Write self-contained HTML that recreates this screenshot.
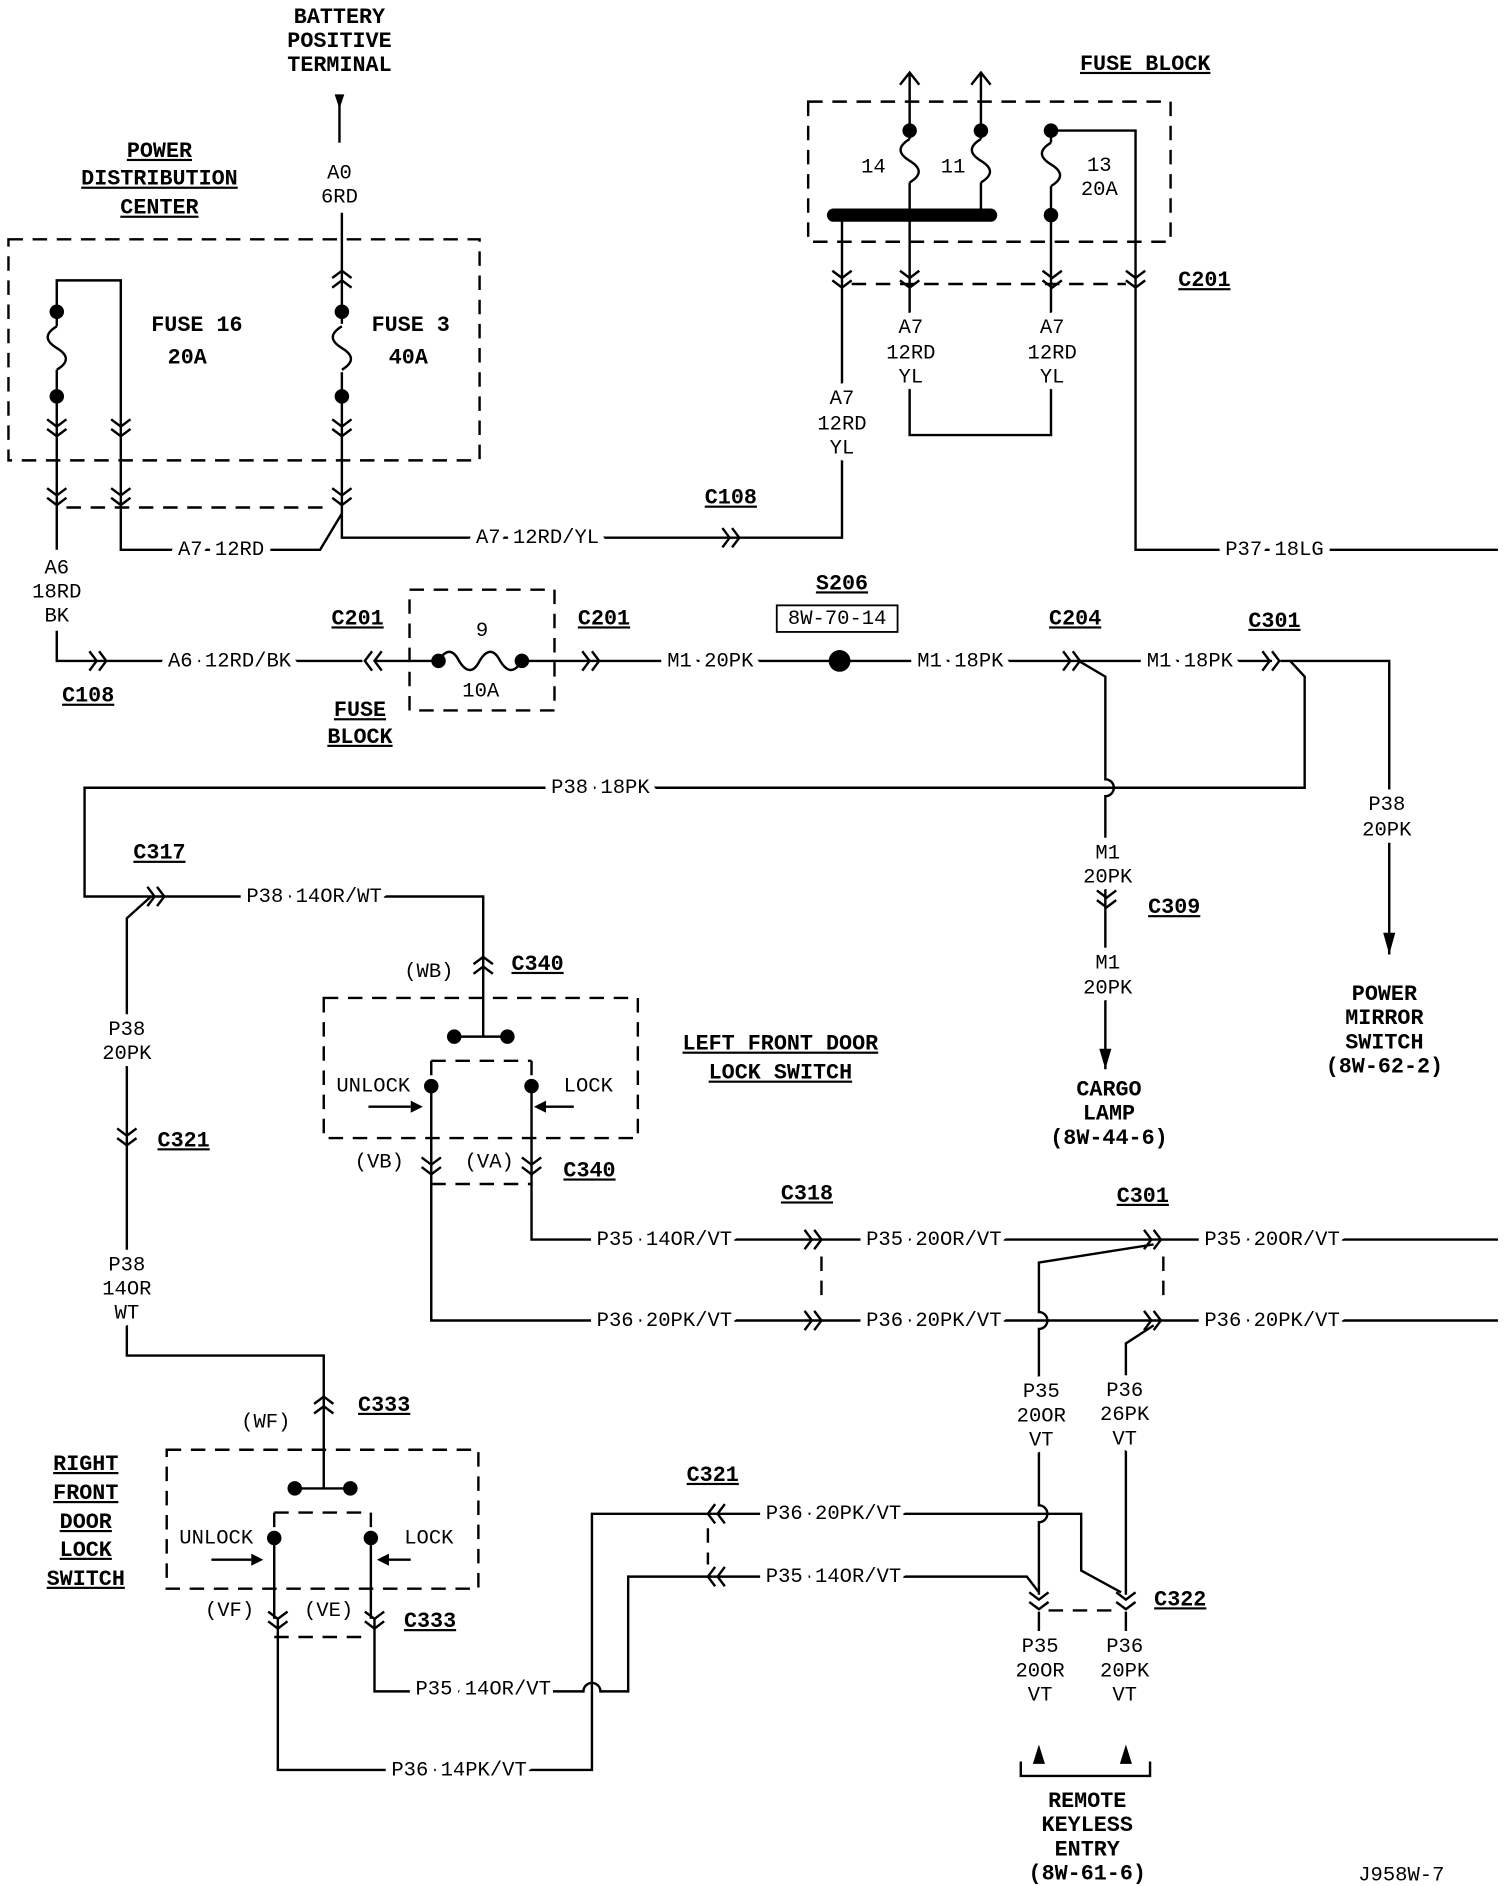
<!DOCTYPE html>
<html><head><meta charset="utf-8"><style>
html,body{margin:0;padding:0;background:#fff;}
svg{display:block;}
text{font-family:"Liberation Mono",monospace;font-size:17px;fill:#000;text-anchor:middle;dominant-baseline:middle;paint-order:stroke;stroke:#fff;stroke-width:12px;stroke-linejoin:round;}
text.b{font-weight:bold;font-size:18px;text-decoration:underline;stroke-width:0;}
text.t{font-weight:bold;font-size:18px;stroke-width:0;}
.l{stroke:#000;stroke-width:2;fill:none;}
.d{stroke:#000;stroke-width:2;fill:none;stroke-dasharray:12,8;}
</style></head><body>
<svg width="1504" height="1886" viewBox="0 0 1245 1561" xmlns="http://www.w3.org/2000/svg">
<defs>
<path id="cd" d="M-8,-8 L0,-2 L8,-8 M-8,0 L0,6 L8,0" stroke="#000" stroke-width="2" fill="none"/>
<path id="cu" d="M-8,8 L0,2 L8,8 M-8,0 L0,-6 L8,0" stroke="#000" stroke-width="2" fill="none"/>
<path id="cr" d="M-8,-8 L-2,0 L-8,8 M0,-8 L6,0 L0,8" stroke="#000" stroke-width="2" fill="none"/>
<path id="cl" d="M8,-8 L2,0 L8,8 M0,-8 L-6,0 L0,8" stroke="#000" stroke-width="2" fill="none"/>
<path id="fv" d="M0,0 c-10,6 -10,12 0,18 c10,6 10,12 0,18" stroke="#000" stroke-width="2" fill="none"/>
</defs>

<!-- battery -->
<text class="t" x="281" y="14">BATTERY</text>
<text class="t" x="281" y="34">POSITIVE</text>
<text class="t" x="281" y="54">TERMINAL</text>
<path d="M277,78 L285,78 L281,90 Z" fill="#000"/>
<path class="l" d="M281,80 V118"/>
<text x="281" y="143">A0</text><text x="281" y="163">6RD</text>
<path class="l" d="M283,176 V445 H697 V380"/>
<path class="l" d="M697,330 V240"/>

<text class="b" x="132" y="125">POWER</text>
<text class="b" x="132" y="148">DISTRIBUTION</text>
<text class="b" x="132" y="172">CENTER</text>
<rect class="d" x="7" y="198" width="390" height="183"/>
<path class="l" d="M47,258 V232 H100 V455 H265 L283,425"/>
<path class="l" d="M47,258 V270 M47,306 V455"/>
<use href="#fv" x="47" y="270"/>
<circle cx="47" cy="258" r="6"/><circle cx="47" cy="328" r="6"/>
<use href="#cd" x="47" y="355"/><use href="#cd" x="100" y="355"/>
<use href="#cd" x="47" y="412"/><use href="#cd" x="100" y="412"/>
<use href="#cu" x="283" y="230"/>
<rect x="274" y="268" width="18" height="40" fill="#fff"/>
<use href="#fv" x="283" y="270"/>
<circle cx="283" cy="258" r="6"/><circle cx="283" cy="328" r="6"/>
<use href="#cd" x="283" y="355"/><use href="#cd" x="283" y="412"/>
<path class="d" d="M55,420 H275"/>
<text class="t" x="163" y="269">FUSE 16</text><text class="t" x="155" y="296">20A</text>
<text class="t" x="340" y="269">FUSE 3</text><text class="t" x="338" y="296">40A</text>
<text x="183" y="455">A7 12RD</text>
<text x="445" y="445">A7 12RD/YL</text>
<use href="#cr" x="606" y="445"/>
<text class="b" x="605" y="412">C108</text>
<text x="697" y="330">A7</text><text x="697" y="351">12RD</text><text x="697" y="371">YL</text>

<text x="47" y="470">A6</text><text x="47" y="490">18RD</text><text x="47" y="510">BK</text>
<path class="l" d="M47,522 V547 H300"/>
<use href="#cr" x="82" y="547"/>
<text class="b" x="73" y="576">C108</text>
<text x="190" y="547">A6 12RD/BK</text>
<use href="#cl" x="308" y="547"/>
<text class="b" x="296" y="512">C201</text>
<text class="b" x="298" y="588">FUSE</text><text class="b" x="298" y="610">BLOCK</text>
<rect class="d" x="339" y="488" width="120" height="100"/>
<path class="l" d="M310,547 H363 M432,547 H1053"/>
<path class="l" d="M363,547 c6,-10 12,-10 17,0 c6,10 12,10 17,0 c6,-10 12,-10 17,0 c6,10 12,10 18,0"/>
<circle cx="363" cy="547" r="6"/><circle cx="432" cy="547" r="6"/>
<text x="399" y="522">9</text><text x="398" y="572">10A</text>
<use href="#cr" x="490" y="547"/>
<text class="b" x="500" y="512">C201</text>
<text x="588" y="547">M1 20PK</text>
<circle cx="695" cy="547" r="9"/>
<text class="t" x="697" y="483" style="text-decoration:underline">S206</text>
<rect x="643" y="501" width="100" height="22" fill="#fff" stroke="#000" stroke-width="1.5"/>
<text x="693" y="512" style="stroke-width:0">8W-70-14</text>
<text x="795" y="547">M1 18PK</text>
<use href="#cr" x="888" y="547"/>
<text class="b" x="890" y="512">C204</text>
<text x="985" y="547">M1 18PK</text>
<use href="#cr" x="1053" y="547"/>
<text class="b" x="1055" y="514">C301</text>

<!-- fuse block top -->
<text class="b" x="948" y="53">FUSE BLOCK</text>
<rect class="d" x="669" y="84" width="300" height="116"/>
<path class="l" d="M753,60 V108 M812,60 V108 M745,70 L753,60 L761,70 M804,70 L812,60 L820,70"/>
<use href="#fv" x="753" y="115"/><use href="#fv" x="812" y="115"/>
<path class="l" d="M753,108 V115 M812,108 V115 M753,151 V360 H871 M812,151 V178"/>
<path d="M690,178 H820" stroke="#000" stroke-width="11" stroke-linecap="round"/>
<circle cx="753" cy="108" r="6"/><circle cx="812" cy="108" r="6"/>
<text x="723" y="138">14</text><text x="789" y="138">11</text>
<path class="l" d="M697,178 V240"/>
<circle cx="870" cy="108" r="6"/>
<path class="l" d="M870,108 H940 V455 H1240 M870,108 V118 M870,154 V360"/>
<use href="#fv" x="870" y="118"/>
<circle cx="870" cy="178" r="6"/>
<text x="910" y="137">13</text><text x="910" y="157">20A</text>
<use href="#cd" x="697" y="232"/><use href="#cd" x="753" y="232"/><use href="#cd" x="871" y="232"/><use href="#cd" x="940" y="232"/>
<path class="d" d="M705,235 H932"/>
<text class="b" x="997" y="232">C201</text>
<text x="754" y="271">A7</text><text x="754" y="292">12RD</text><text x="754" y="312">YL</text>
<text x="871" y="271">A7</text><text x="871" y="292">12RD</text><text x="871" y="312">YL</text>
<text x="1055" y="455">P37 18LG</text>

<!-- M1 down -->
<path class="l" d="M893,547 L915,560 V645 a7,7 0 0 1 0,14 V885"/>
<path d="M910,868 L920,868 L915,885 Z" fill="#000"/>
<text x="917" y="706">M1</text><text x="917" y="726">20PK</text>
<use href="#cd" x="916" y="745"/>
<text class="b" x="972" y="751">C309</text>
<text x="917" y="797">M1</text><text x="917" y="818">20PK</text>
<text class="t" x="918" y="902">CARGO</text><text class="t" x="918" y="922">LAMP</text><text class="t" x="918" y="942">(8W-44-6)</text>

<!-- C301 right -->
<path class="l" d="M1060,547 H1150 V790"/>
<path d="M1145,772 L1155,772 L1150,790 Z" fill="#000"/>
<text x="1148" y="666">P38</text><text x="1148" y="687">20PK</text>
<text class="t" x="1146" y="823">POWER</text><text class="t" x="1146" y="843">MIRROR</text><text class="t" x="1146" y="863">SWITCH</text><text class="t" x="1146" y="883">(8W-62-2)</text>

<!-- P38 loop -->
<path class="l" d="M1068,547 L1080,560 V652 H70 V742 H400 V800"/>
<text x="497" y="652">P38 18PK</text>
<use href="#cr" x="130" y="742"/>
<text class="b" x="132" y="706">C317</text>
<text x="260" y="742">P38 14OR/WT</text>
<use href="#cu" x="400" y="798"/>
<text x="355" y="804">(WB)</text>
<text class="b" x="445" y="798">C340</text>

<!-- left front switch -->
<rect class="d" x="268" y="826" width="260" height="116"/>
<path class="l" d="M400,800 V858 M376,858 H420"/>
<circle cx="376" cy="858" r="6"/><circle cx="420" cy="858" r="6"/>
<path class="d" d="M357,878 H440 M357,980 H440"/>
<path class="d" d="M357,878 V899 M440,878 V899"/>
<circle cx="357" cy="899" r="6"/><circle cx="440" cy="899" r="6"/>
<path class="l" d="M357,899 V1093 H1240 M440,899 V1026 H1240"/>
<text x="309" y="899">UNLOCK</text><text x="487" y="899">LOCK</text>
<path class="l" d="M305,916 H340 M475,916 H452"/>
<path d="M340,911 L350,916 L340,921 Z M452,911 L442,916 L452,921 Z" fill="#000"/>
<text class="b" x="646" y="864">LEFT FRONT DOOR</text>
<text class="b" x="646" y="888">LOCK SWITCH</text>
<text x="314" y="962">(VB)</text><text x="405" y="962">(VA)</text>
<text class="b" x="488" y="969">C340</text>
<use href="#cd" x="357" y="966"/><use href="#cd" x="440" y="966"/>

<text x="550" y="1026">P35 14OR/VT</text>
<text x="550" y="1093">P36 20PK/VT</text>
<use href="#cr" x="674" y="1026"/><use href="#cr" x="674" y="1093"/>
<path class="d" d="M680,1040 V1080"/>
<text class="b" x="668" y="988">C318</text>
<text x="773" y="1026">P35 20OR/VT</text>
<text x="773" y="1093">P36 20PK/VT</text>
<use href="#cr" x="955" y="1026"/><use href="#cr" x="955" y="1093"/>
<path class="d" d="M963,1040 V1080"/>
<text class="b" x="946" y="990">C301</text>
<text x="1053" y="1026">P35 20OR/VT</text>
<text x="1053" y="1093">P36 20PK/VT</text>

<path class="l" d="M955,1030 L860,1045 V1086 a7,7 0 0 1 0,14 V1246 a7,7 0 0 1 0,14 V1320"/>
<path class="l" d="M955,1097 L932,1112 V1320"/>
<text x="862" y="1152">P35</text><text x="862" y="1172">20OR</text><text x="862" y="1192">VT</text>
<text x="931" y="1151">P36</text><text x="931" y="1171">26PK</text><text x="931" y="1191">VT</text>

<!-- C321 lines -->
<path class="l" d="M590,1253 H895 V1300 L928,1318"/>
<path class="l" d="M590,1305 H850 L860,1318"/>
<use href="#cl" x="592" y="1253"/><use href="#cl" x="592" y="1305"/>
<path class="d" d="M586,1265 V1295"/>
<text class="b" x="590" y="1221">C321</text>
<text x="690" y="1253">P36 20PK/VT</text>
<text x="690" y="1305">P35 14OR/VT</text>
<use href="#cd" x="860" y="1326"/><use href="#cd" x="932" y="1326"/>
<path class="d" d="M868,1333 H924"/>
<text class="b" x="977" y="1324">C322</text>
<path class="l" d="M860,1334 V1350 M932,1334 V1350"/>
<text x="861" y="1363">P35</text><text x="861" y="1383">20OR</text><text x="861" y="1403">VT</text>
<text x="931" y="1363">P36</text><text x="931" y="1383">20PK</text><text x="931" y="1403">VT</text>
<path d="M855,1460 L860,1444 L865,1460 Z M927,1460 L932,1444 L937,1460 Z" fill="#000"/>
<path class="l" d="M845,1458 V1470 H952 V1458"/>
<text class="t" x="900" y="1491">REMOTE</text><text class="t" x="900" y="1511">KEYLESS</text><text class="t" x="900" y="1531">ENTRY</text><text class="t" x="900" y="1551">(8W-61-6)</text>
<text x="1160" y="1552">J958W-7</text>

<path class="l" d="M590,1253 H490 V1465 H230 V1340"/>
<path class="l" d="M590,1305 H520 V1400 H497 a7,7 0 0 0 -14,0 H310 V1340"/>
<text x="380" y="1465">P36 14PK/VT</text>
<text x="400" y="1398">P35 14OR/VT</text>

<!-- left vertical -->
<path class="l" d="M125,742 L105,760 V1122 H268 V1160"/>
<text x="105" y="852">P38</text><text x="105" y="872">20PK</text>
<use href="#cd" x="105" y="942"/>
<text class="b" x="152" y="944">C321</text>
<text x="105" y="1047">P38</text><text x="105" y="1067">14OR</text><text x="105" y="1087">WT</text>
<use href="#cu" x="268" y="1162"/>
<text x="220" y="1177">(WF)</text>
<text class="b" x="318" y="1163">C333</text>

<rect class="d" x="138" y="1200" width="258" height="115"/>
<path class="l" d="M268,1160 V1232 M244,1232 H290"/>
<circle cx="244" cy="1232" r="6"/><circle cx="290" cy="1232" r="6"/>
<path class="d" d="M227,1252 H307 M227,1355 H307"/>
<path class="d" d="M227,1252 V1273 M307,1252 V1273"/>
<circle cx="227" cy="1273" r="6"/><circle cx="307" cy="1273" r="6"/>
<path class="l" d="M227,1273 V1340 M307,1273 V1340"/>
<text x="179" y="1273">UNLOCK</text><text x="355" y="1273">LOCK</text>
<path class="l" d="M175,1291 H208 M340,1291 H322"/>
<path d="M208,1286 L218,1291 L208,1296 Z M322,1286 L312,1291 L322,1296 Z" fill="#000"/>
<text x="190" y="1333">(VF)</text><text x="272" y="1333">(VE)</text>
<text class="b" x="356" y="1342">C333</text>
<use href="#cd" x="230" y="1342"/><use href="#cd" x="310" y="1342"/>
<text class="b" x="71" y="1212">RIGHT</text><text class="b" x="71" y="1236">FRONT</text><text class="b" x="71" y="1260">DOOR</text><text class="b" x="71" y="1283">LOCK</text><text class="b" x="71" y="1307">SWITCH</text>
</svg>
</body></html>
